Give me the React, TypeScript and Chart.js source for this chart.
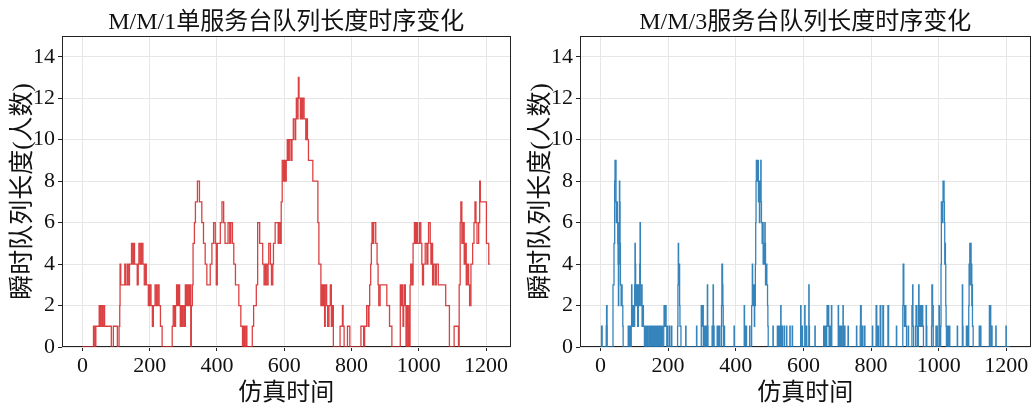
import { useEffect, useRef } from "react";
import { Chart, registerables } from "chart.js";

Chart.register(...registerables);

const xTicks = [0, 200, 400, 600, 800, 1000, 1200];
const yTicks = [0, 2, 4, 6, 8, 10, 12, 14];
const titleMM1 = "M/M/1单服务台队列长度时序变化";
const titleMM3 = "M/M/3服务台队列长度时序变化";
const xLabel = "仿真时间";
const yLabel = "瞬时队列长度(人数)";

// [time, queue length] change points (value holds until next point)
const mm1Steps: [number, number][] = [
  [0, 0], [33, 1], [37, 0], [40, 1], [50, 2], [53, 1], [56, 2], [60, 1], [64, 2], [66, 1],
  [86, 0], [92, 1], [104, 0], [109, 1], [111, 2], [112, 4], [114, 3], [126, 4], [128, 3], [133, 4],
  [136, 3], [140, 4], [146, 5], [150, 4], [153, 5], [155, 4], [163, 3], [166, 4], [168, 5], [172, 4],
  [176, 5], [180, 4], [184, 3], [188, 4], [190, 3], [196, 2], [200, 3], [204, 2], [208, 1], [211, 2],
  [216, 3], [220, 2], [224, 3], [228, 2], [232, 1], [237, 0], [267, 1], [270, 2], [274, 1], [277, 2],
  [280, 3], [283, 2], [286, 3], [289, 2], [291, 1], [293, 2], [296, 1], [299, 2], [303, 1], [306, 3],
  [309, 2], [312, 3], [316, 2], [319, 3], [322, 0], [324, 2], [327, 3], [329, 5], [333, 6], [336, 7],
  [342, 8], [348, 7], [355, 6], [360, 5], [365, 4], [370, 3], [380, 4], [385, 5], [390, 6], [395, 5],
  [398, 3], [401, 5], [410, 6], [415, 7], [420, 6], [424, 5], [433, 6], [438, 5], [441, 6], [446, 5],
  [450, 4], [455, 3], [465, 2], [471, 1], [476, 0], [479, 1], [482, 0], [486, 1], [489, 0], [505, 1],
  [509, 2], [517, 3], [521, 6], [527, 5], [536, 4], [540, 3], [544, 4], [548, 3], [552, 4], [554, 5],
  [559, 4], [562, 3], [566, 4], [568, 5], [573, 6], [582, 5], [584, 6], [588, 5], [591, 7], [594, 9],
  [598, 8], [600, 9], [603, 8], [606, 9], [609, 10], [612, 9], [615, 10], [620, 9], [623, 10], [627, 11],
  [632, 10], [634, 11], [636, 12], [640, 11], [641, 12], [642, 13], [644, 12], [648, 11], [650, 12], [653, 11],
  [655, 12], [659, 11], [664, 10], [667, 11], [669, 10], [672, 9], [685, 8], [700, 6], [703, 4], [709, 2],
  [712, 3], [715, 2], [718, 3], [720, 1], [722, 3], [726, 2], [729, 1], [733, 2], [737, 3], [740, 1],
  [743, 2], [746, 0], [766, 1], [773, 2], [775, 1], [778, 0], [788, 1], [795, 0], [828, 1], [836, 0],
  [839, 1], [845, 2], [850, 1], [852, 2], [854, 3], [857, 4], [859, 5], [861, 6], [864, 5], [866, 6],
  [872, 5], [876, 4], [879, 3], [881, 2], [885, 3], [905, 2], [913, 1], [920, 0], [945, 3], [948, 2],
  [950, 3], [953, 1], [955, 2], [958, 3], [960, 2], [962, 0], [964, 2], [966, 1], [968, 0], [970, 2],
  [972, 0], [974, 3], [976, 4], [980, 3], [983, 5], [987, 6], [990, 5], [993, 6], [996, 5], [1002, 6],
  [1006, 5], [1009, 4], [1011, 3], [1014, 4], [1019, 5], [1024, 4], [1027, 5], [1029, 6], [1034, 5], [1036, 4],
  [1038, 5], [1041, 3], [1044, 4], [1049, 3], [1052, 4], [1058, 3], [1080, 2], [1091, 0], [1105, 1], [1118, 0],
  [1120, 3], [1123, 6], [1125, 7], [1128, 5], [1132, 6], [1135, 4], [1138, 5], [1141, 3], [1144, 4], [1148, 3],
  [1151, 2], [1155, 4], [1160, 5], [1164, 6], [1167, 7], [1170, 6], [1173, 5], [1178, 6], [1181, 8], [1183, 7],
  [1201, 5], [1208, 4], [1212, 4],
];

const mm3Steps: [number, number][] = [
  [0, 0], [3, 1], [5, 0], [17, 1], [18, 2], [19.5, 1], [20, 0], [37, 3], [40, 5], [42, 8],
  [43, 9], [44, 8], [45, 9], [46, 7], [47, 6], [48, 7], [50, 6], [51, 5], [52, 4], [53, 2],
  [54, 4], [55, 6], [56, 8], [57, 7], [58, 5], [59, 3], [61, 2], [63, 3], [64, 2], [66, 1],
  [67, 0], [82, 1], [83, 0], [86, 1], [87.5, 0], [91, 1], [92, 3], [93, 2], [94, 1], [95, 2],
  [97, 1], [98, 2], [100, 1], [101, 3], [102, 5], [103, 4], [104, 2], [105, 3], [107, 2], [108, 3],
  [110, 1], [112, 3], [114, 2], [116, 4], [117, 6], [118, 3], [120, 2], [121, 3], [123, 1], [126, 2],
  [127, 1], [130, 0], [132, 1], [134, 0], [136, 1], [137, 0], [139, 1], [140, 0], [144, 1], [146, 0],
  [148, 1], [149, 0], [152, 1], [154, 0], [157, 1], [158, 0], [161, 1], [162, 0], [165, 1], [167, 0],
  [170, 1], [171, 0], [174, 1], [176, 0], [178, 1], [179, 0], [182, 1], [183, 0], [187, 1], [188, 2],
  [190, 1], [191, 2], [194, 1], [196, 0], [198, 1], [199, 0], [204, 1], [205, 0], [210, 1], [211, 0],
  [228, 1], [229, 3], [230, 5], [231, 4], [232.5, 3], [233, 4], [234, 2], [235, 1], [238, 0], [252, 1],
  [253, 0], [284, 1], [285, 0], [298, 2], [300, 1], [302, 2], [304, 0], [306, 1], [307, 0], [309, 1],
  [310, 0], [312, 1], [313, 0], [316, 3], [317, 1], [318, 0], [330, 1], [331, 0], [333, 3], [334, 1],
  [336, 0], [345, 1], [346, 0], [349, 1], [350, 0], [352, 1], [353, 0], [358, 2], [359, 4], [361, 3],
  [362, 2], [363, 1], [364, 0], [366, 1], [367, 0], [395, 1], [396, 0], [425, 2], [426, 0], [428, 1],
  [429, 0], [431, 1], [432, 0], [441, 1], [442, 0], [447, 2], [449, 4], [450, 3], [452, 2], [454, 3],
  [455, 1], [456, 2], [458, 4], [459, 6], [460, 8], [461, 9], [462, 8], [463, 9], [464, 8], [466, 9],
  [467, 7], [468, 8], [470, 6], [471, 7], [472, 8], [474, 9], [475, 7], [476, 6], [478, 5], [480, 6],
  [481, 4], [483, 5], [484, 4], [486, 6], [487, 5], [488, 3], [491, 4], [492, 3], [494, 2], [495, 1],
  [496, 0], [510, 1], [511, 0], [523, 1], [524, 0], [526, 1], [527, 0], [529, 1], [530, 0], [533, 2],
  [534, 1], [535, 0], [537, 1], [538, 0], [543, 1], [544, 0], [550, 1], [551, 0], [560, 1], [561, 0],
  [567, 1], [568, 0], [592, 2], [593, 1], [594, 0], [596, 1], [597, 0], [604, 2], [605, 0], [609, 1],
  [610, 0], [616, 3], [617, 1], [618, 0], [634, 1], [635, 0], [660, 1], [661, 0], [663, 1], [664, 0],
  [666, 1], [667, 0], [669, 1], [670, 2], [672, 1], [673, 2], [675, 1], [676, 0], [679, 1], [680, 0],
  [683, 2], [684, 0], [703, 2], [704, 1], [706, 0], [708, 1], [709, 0], [712, 1], [713, 0], [717, 2],
  [718, 1], [720, 0], [722, 1], [723, 0], [732, 1], [733, 0], [757, 1], [758, 0], [768, 1], [769, 2],
  [771, 1], [772, 0], [775, 1], [776, 0], [781, 1], [782, 0], [804, 1], [805, 0], [815, 2], [817, 1],
  [818, 0], [821, 1], [822, 0], [827, 2], [829, 0], [835, 2], [837, 0], [850, 2], [852, 0], [875, 1],
  [876, 0], [894, 2], [895, 4], [897, 2], [899, 1], [901, 2], [903, 1], [905, 0], [910, 1], [911, 0],
  [921, 2], [923, 3], [924, 1], [926, 0], [932, 1], [933, 2], [935, 1], [937, 0], [940, 2], [941, 3],
  [942, 1], [944, 2], [946, 1], [948, 2], [950, 1], [952, 2], [953, 1], [955, 0], [963, 2], [964, 1],
  [965, 0], [979, 1], [980, 3], [982, 2], [984, 0], [992, 1], [993, 0], [995, 1], [996, 0], [1001, 2],
  [1002, 1], [1004, 0], [1006, 1], [1007, 4], [1008, 7], [1009, 6], [1010, 7], [1011, 6], [1012, 7], [1013, 8],
  [1016, 7], [1017, 6], [1018, 4], [1019, 5], [1020, 4], [1021, 2], [1022, 1], [1023, 0], [1025, 1], [1026, 0],
  [1028, 1], [1029, 0], [1031, 1], [1033, 0], [1055, 1], [1056, 0], [1070, 3], [1071, 1], [1072, 0], [1082, 1],
  [1083, 0], [1086, 1], [1087, 0], [1089, 2], [1090, 4], [1091, 3], [1092, 5], [1094, 4], [1095, 5], [1096, 3],
  [1097, 4], [1098, 2], [1099, 3], [1100, 1], [1102, 0], [1120, 1], [1121, 0], [1124, 1], [1125, 0], [1150, 2],
  [1152, 1], [1153, 2], [1154, 0], [1157, 1], [1158, 0], [1169, 1], [1170, 0], [1199, 1], [1200, 0], [1211, 0],
];

const FONT = '"Liberation Serif", "Noto Sans CJK SC", serif';
const TEXT = "#111";
const AXIS = "#222";
const GRID = "#e6e6e6";

const framePlugin = {
  id: "frame",
  beforeDatasetsDraw(chart: any) {
    const { ctx, chartArea } = chart;
    const l = Math.round(chartArea.left) + 0.5;
    const t = Math.round(chartArea.top) + 0.5;
    const r = Math.round(chartArea.right) - 0.5;
    const b = Math.round(chartArea.bottom) - 0.5;
    ctx.save();
    ctx.strokeStyle = AXIS;
    ctx.lineWidth = 1;
    ctx.strokeRect(l, t, r - l, b - t);
    ctx.restore();
  },
  afterDraw(chart: any, _args: any, opts: any) {
    const { ctx, chartArea } = chart;
    ctx.save();
    ctx.fillStyle = TEXT;
    ctx.font = `normal 24px ${FONT}`;
    ctx.textAlign = "center";
    ctx.textBaseline = "middle";
    ctx.fillText(opts.text, (chartArea.left + chartArea.right) / 2, 23);
    ctx.restore();
  },
};

type Props = {
  steps: [number, number][];
  color: string;
  title: string;
  width: number;
  yAxisWidth: number;
  yTitlePad: number;
  padRight: number;
  xMin: number;
  xMax: number;
};

function StepChart({ steps, color, title, width, yAxisWidth, yTitlePad, padRight, xMin, xMax }: Props) {
  const ref = useRef<HTMLCanvasElement | null>(null);
  useEffect(() => {
    if (!ref.current) return;
    const chart = new Chart(ref.current, {
      type: "line",
      data: {
        datasets: [
          {
            data: steps.map(([x, y]) => ({ x, y })),
            borderColor: color,
            borderWidth: 1.3,
            pointRadius: 0,
            stepped: true,
            fill: false,
            tension: 0,
          },
        ],
      },
      options: {
        animation: false,
        responsive: false,
        devicePixelRatio: 1,
        layout: { padding: { left: 0, right: padRight, top: 36, bottom: 0 } },
        plugins: {
          legend: { display: false },
          tooltip: { enabled: false },
          title: { display: false },
          frame: { text: title },
        },
        scales: {
          x: {
            type: "linear",
            min: xMin,
            max: xMax,
            afterBuildTicks: (s: any) => {
              s.ticks = xTicks.map((v) => ({ value: v }));
            },
            afterFit: (s: any) => {
              s.height = 59;
            },
            ticks: {
              color: TEXT,
              font: { family: FONT, size: 22 },
              padding: 2,
              maxRotation: 0,
              autoSkip: false,
              callback: (v: any) => String(v),
            },
            grid: { color: GRID, tickColor: AXIS, tickLength: 4, lineWidth: 1 },
            border: { display: false },
            title: {
              display: true,
              text: xLabel,
              color: TEXT,
              font: { family: FONT, size: 24, lineHeight: 1 },
              padding: { top: 0, bottom: 0 },
            },
          },
          y: {
            type: "linear",
            min: 0,
            max: 15,
            afterBuildTicks: (s: any) => {
              s.ticks = yTicks.map((v) => ({ value: v }));
            },
            afterFit: (s: any) => {
              s.width = yAxisWidth;
            },
            ticks: {
              color: TEXT,
              font: { family: FONT, size: 22 },
              padding: 3,
              autoSkip: false,
              callback: (v: any) => String(v),
            },
            grid: { color: GRID, tickColor: AXIS, tickLength: 4, lineWidth: 1 },
            border: { display: false },
            title: {
              display: true,
              text: yLabel,
              color: TEXT,
              font: { family: FONT, size: 25, lineHeight: 1.2 },
              padding: { top: yTitlePad, bottom: 0 },
            },
          },
        },
      } as any,
      plugins: [framePlugin],
    });
    return () => chart.destroy();
  }, []);
  return <canvas ref={ref} width={width} height={406} style={{ display: "block" }} />;
}

export default function App() {
  return (
    <div style={{ position: "absolute", left: 0, top: 0, width: 1032, height: 406, background: "#fff" }}>
      <div style={{ position: "absolute", left: 0, top: 0 }}>
        <StepChart
          steps={mm1Steps}
          color="rgba(214,39,40,0.88)"
          title={titleMM1}
          width={516}
          yAxisWidth={62}
          yTitlePad={8}
          padRight={5.5}
          xMin={-60.6}
          xMax={1272.6}
        />
      </div>
      <div style={{ position: "absolute", left: 516, top: 0 }}>
        <StepChart
          steps={mm3Steps}
          color="rgba(31,119,180,0.9)"
          title={titleMM3}
          width={516}
          yAxisWidth={64}
          yTitlePad={10}
          padRight={1.5}
          xMin={-60.55}
          xMax={1271.6}
        />
      </div>
    </div>
  );
}
